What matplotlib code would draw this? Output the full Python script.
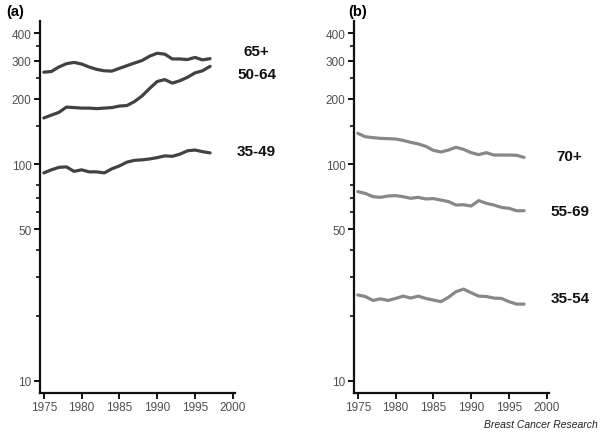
import numpy as np
import matplotlib
matplotlib.use("Agg")
import matplotlib.pyplot as plt
from matplotlib.ticker import FixedLocator, FixedFormatter, NullFormatter

plt.rcParams['font.family'] = ['Liberation Sans', 'DejaVu Sans']

years = np.arange(1975, 1998)

# panel (a)
a_65 = [265, 267, 280, 290, 294, 289, 280, 273, 269, 268, 276, 284,
        292, 300, 314, 324, 321, 305, 305, 303, 310, 302, 306]
a_50_64 = [163, 168, 173, 183, 182, 181, 181, 180, 181, 182, 185, 186,
           194, 206, 223, 240, 245, 236, 242, 251, 263, 269, 282]
a_35_49 = [91, 94, 96.5, 97, 92.5, 94, 92, 92, 91, 95, 98, 102,
           104, 104.5, 105.5, 107, 109, 108.5, 111, 115, 116, 114, 112.5]

# panel (b)
b_70 = [138.5, 133.6, 132.3, 131.3, 130.9, 130.4, 128.5, 125.9, 123.7, 120.6, 115.6, 113.6,
        116, 119.4, 116.8, 112.8, 110.4, 112.8, 110, 110, 110, 109.7, 107.3]
b_55_69 = [74.6, 73.2, 70.7, 70.2, 71.2, 71.5, 70.7, 69.5, 70.2, 69, 69.3, 68.2,
           67.1, 64.7, 64.9, 64, 67.8, 65.9, 64.7, 63.1, 62.5, 60.9, 60.9]
b_35_54 = [24.9, 24.5, 23.5, 23.9, 23.5, 24.0, 24.6, 24.1, 24.6, 24.0, 23.6, 23.2,
           24.3, 25.8, 26.5, 25.5, 24.6, 24.5, 24.1, 24.0, 23.2, 22.6, 22.6]

major_y = [10, 50, 100, 200, 300, 400]
minor_y = [20, 30, 40, 60, 70, 80, 150, 250, 350]
x_ticks = [1975, 1980, 1985, 1990, 1995, 2000]

fig = plt.figure(figsize=(6, 4.35), dpi=100)
ax_a = fig.add_axes([0.0667, 0.0943, 0.325, 0.855])
ax_b = fig.add_axes([0.59, 0.0943, 0.325, 0.855])


def style(ax):
    ax.set_yscale('log')
    ax.set_ylim(8.8, 456)
    ax.set_xlim(1974.5, 2000.3)
    for s in ['top', 'right']:
        ax.spines[s].set_visible(False)
    for s in ['left', 'bottom']:
        ax.spines[s].set_linewidth(1.6)
        ax.spines[s].set_color('#111111')
    ax.yaxis.set_major_locator(FixedLocator(major_y))
    ax.yaxis.set_minor_locator(FixedLocator(minor_y))
    ax.yaxis.set_major_formatter(FixedFormatter([str(v) for v in major_y]))
    ax.yaxis.set_minor_formatter(NullFormatter())
    ax.set_xticks(x_ticks)
    ax.tick_params(axis='both', which='major', length=4, width=1.4, labelsize=8.5,
                   labelcolor='#505050', color='#111111', pad=2)
    ax.tick_params(axis='y', which='minor', length=3, width=1.2, color='#111111')


style(ax_a)
style(ax_b)

dark = '#424242'
light = '#888888'
for series in (a_65, a_50_64, a_35_49):
    ax_a.plot(years, series, color=dark, lw=2.3, solid_capstyle='round')
for series in (b_70, b_55_69, b_35_54):
    ax_b.plot(years, series, color=light, lw=2.3, solid_capstyle='round')

lab = dict(fontsize=11, fontweight='bold', color='#111111', va='center')
fig.text(0.405, 1 - 52 / 435, '65+', **lab)
fig.text(0.395, 1 - 75 / 435, '50-64', **lab)
fig.text(0.395, 1 - 152 / 435, '35-49', **lab)
fig.text(0.927, 1 - 157 / 435, '70+', **lab)
fig.text(0.918, 1 - 212 / 435, '55-69', **lab)
fig.text(0.918, 1 - 299 / 435, '35-54', **lab)

fig.text(0.01, 1 - 12 / 435, '(a)', fontsize=10.5, fontweight='bold', va='center')
fig.text(0.58, 1 - 12 / 435, '(b)', fontsize=10.5, fontweight='bold', va='center')
fig.text(0.997, 1 - 430 / 435, 'Breast Cancer Research', fontsize=7.5, style='italic',
         ha='right', va='bottom', color='#222222')

fig.savefig('out.png', dpi=100)
